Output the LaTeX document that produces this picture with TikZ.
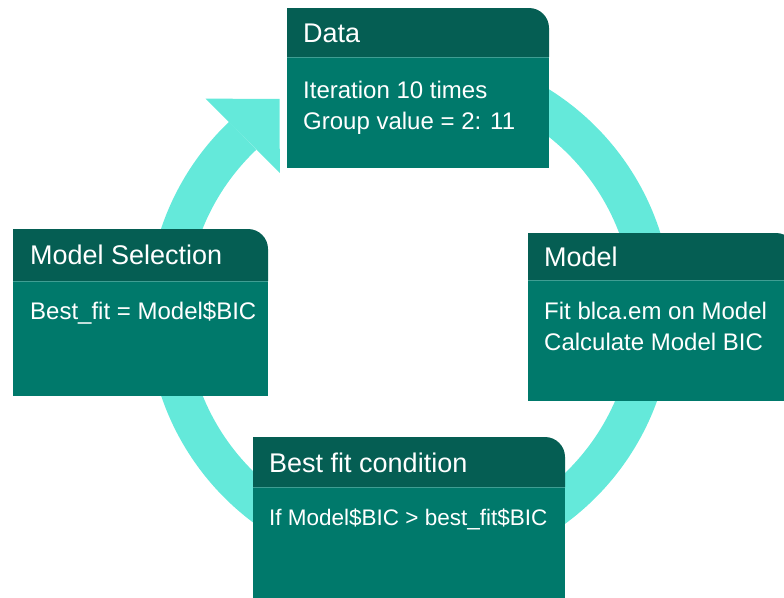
\documentclass[tikz,border=0pt]{standalone}
\usepackage{fontspec}
\setmainfont{Liberation Sans}
\usetikzlibrary{calc, positioning}
\definecolor{cardHead}{HTML}{055E53}
\definecolor{cardBody}{HTML}{00796B}
\definecolor{cardRule}{HTML}{3F9E93}
\definecolor{ringCyan}{HTML}{64E9DA}

% card: left, top, right, header bottom, bottom
\newcommand{\stagecard}[5]{%
  \fill[cardBody] (#1,#4) rectangle (#3,#5);
  \fill[cardHead] (#1,#4) -- (#1,#2) -- (#3-20,#2)
    arc[start angle=90, end angle=0, radius=20pt] -- (#3,#4) -- cycle;
  \draw[cardRule, line width=1pt] (#1,#4) -- (#3,#4);
}

\begin{document}
\begin{tikzpicture}[x=1pt, y=-1pt,
    cardtitle/.style={anchor=base west, inner sep=0pt, text=white,
      font=\fontsize{27}{31}\selectfont},
    cardtext/.style={anchor=north west, inner sep=0pt, text=white, align=left,
      font=\fontsize{24}{31}\selectfont},
    ring/.style={draw=ringCyan, line width=39pt}]
  \useasboundingbox (0,0) rectangle (784,597);
  \clip (0,0) rectangle (784,597);

  % the cycle
  \coordinate (hub) at (410,312);
  \draw[ring] ($(hub)+(90:243pt)$) arc[start angle=90, end angle=-226.5, radius=243pt];
  \coordinate (headback) at ($(hub)+(133.5:243pt)$);
  \fill[ringCyan] ($(headback)+(135:52.5pt)$) -- ($(headback)+(45:52pt)$)
    -- ($(headback)+(-45:52.5pt)$) -- cycle;

  % Data
  \stagecard{287}{8}{549}{57}{168}
  \node[cardtitle] (data) at (303,42) {Data};
  \node[cardtext] (dataText) at (303,80.5) {Iteration 10 times\\Group value = 2: 11};

  % Model
  \stagecard{528}{233}{796}{280}{401}
  \node[cardtitle] (model) at (544,266) {Model};
  \node[cardtext] (modelText) at (544,301.5) {Fit blca.em on Model\\Calculate Model BIC};

  % Best fit condition
  \stagecard{253}{437}{565}{487}{620}
  \node[cardtitle] (bestfit) at (269,472) {Best fit condition};
  \node[cardtext, font=\fontsize{22.5}{31}\selectfont] (bestfitText) at (269,509)
    {If Model\$BIC > best\_fit\$BIC};

  % Model Selection
  \stagecard{13}{229}{268}{281}{396}
  \node[cardtitle] (selection) at (30,264) {Model Selection};
  \node[cardtext] (selectionText) at (30,301.5) {Best\_fit = Model\$BIC};
\end{tikzpicture}
\end{document}
